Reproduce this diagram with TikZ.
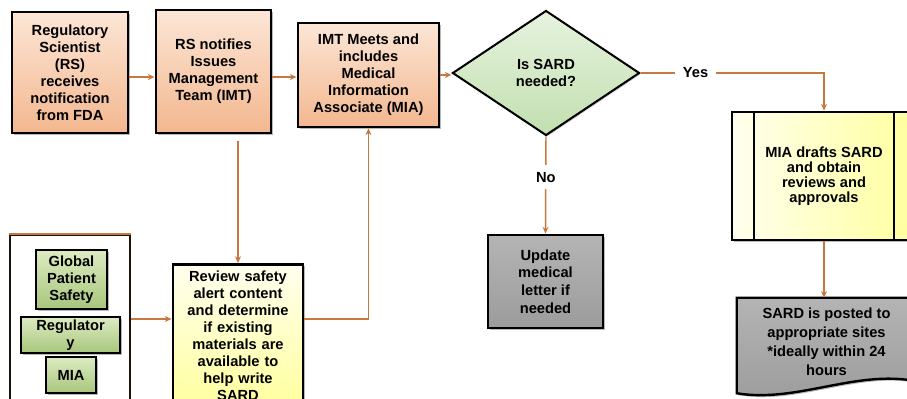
\documentclass[tikz,border=0pt]{standalone}
\usepackage{fontspec}
\setmainfont{Liberation Sans}
\usetikzlibrary{shapes.geometric,arrows.meta,shadows,calc,backgrounds}
\definecolor{connc}{HTML}{C8783C}
\definecolor{peachA}{HTML}{FCE6D6}
\definecolor{peachB}{HTML}{F3B78F}
\definecolor{greenA}{HTML}{E6F3DE}
\definecolor{greenB}{HTML}{C2DFB0}
\definecolor{lgA}{HTML}{DDEBC2}
\definecolor{lgB}{HTML}{A8C67C}
\definecolor{yelA}{HTML}{FFFFEE}
\definecolor{yelB}{HTML}{FFFF9E}
\definecolor{greyA}{HTML}{B4B4B4}
\definecolor{greyB}{HTML}{9C9C9C}
\begin{document}
\begin{tikzpicture}[x=0.75pt,y=-0.75pt,
  every node/.style={font=\fontsize{11}{12.75}\selectfont\bfseries, align=center, inner sep=0pt},
  box/.style={draw=black, line width=2.2pt, drop shadow={shadow xshift=1.5pt,shadow yshift=-1.5pt,fill=black!55}},
  peach/.style={box, top color=peachA, bottom color=peachB},
  lgreen/.style={box, line width=1.8pt, top color=lgA, bottom color=lgB},
  yel/.style={box, left color=yelA, right color=yelB},
  grey/.style={box, top color=greyA, bottom color=greyB},
  conn/.style={draw=connc, line width=1.1pt, -{Stealth[length=5pt,width=4.5pt]}},
  lab/.style={fill=white, inner xsep=6pt, inner ysep=5pt}
]
\useasboundingbox (0,0) rectangle (907,399);

% top row
\node[peach, minimum width=87pt, minimum height=90.75pt] (b1) at (70,72.5)
  {Regulatory\\Scientist\\(RS)\\receives\\notification\\from FDA};
\node[peach, minimum width=86.25pt, minimum height=92.25pt] (b2) at (213.5,71.5)
  {RS notifies\\Issues\\Management\\Team (IMT)};
\node[peach, minimum width=105.75pt, minimum height=78pt] (b3) at (368.5,75)
  {IMT Meets and\\includes\\Medical\\Information\\Associate (MIA)};
\node[diamond, draw=black, line width=1.5pt, top color=greenA, bottom color=greenB,
  drop shadow={shadow xshift=1pt,shadow yshift=-1pt,fill=black!40},
  minimum width=140.25pt, minimum height=93.75pt, aspect=1.5] (d) at (546,73)
  {Is SARD\\needed?};

% right column
\node[yel, minimum width=138pt, minimum height=96pt, font=\fontsize{11}{11.25}\selectfont\bfseries] (mia) at (824,176)
  {MIA drafts SARD\\and obtain\\reviews and\\approvals};
\draw[line width=1.5pt] ($(mia.north west)+(23,0)$) -- ($(mia.south west)+(23,0)$);
\draw[line width=1.5pt] ($(mia.north east)+(-23,0)$) -- ($(mia.south east)+(-23,0)$);

\node[minimum width=134.25pt, minimum height=65.25pt, font=\fontsize{11}{14.25}\selectfont\bfseries] (post) at (826.5,341.5)
  {SARD is posted to\\appropriate sites\\*ideally within 24\\hours};
\begin{scope}[on background layer]
\filldraw[line width=1.8pt, top color=greyA, bottom color=greyB,
  drop shadow={shadow xshift=1.5pt,shadow yshift=-1.5pt,fill=black!55}]
  (post.north west) -- (post.north east) -- ($(post.south east)+(0,-4)$)
  .. controls ($(post.south east)+(-60,-16)$) and ($(post.south west)+(60,18)$)
  .. ($(post.south west)+(0,8)$) -- cycle;
\end{scope}

% middle
\node[grey, minimum width=86.25pt, minimum height=69.75pt, font=\fontsize{11}{13.2}\selectfont\bfseries] (upd) at (545.5,281.5)
  {Update\\medical\\letter if\\needed};

% lower left
\node[draw=black!85!brown, line width=1.6pt, minimum width=90pt, minimum height=126pt] (grp) at (70,319) {};
\draw[connc, line width=2pt] (grp.north west) -- (grp.north east);
\node[lgreen, minimum width=53.25pt, minimum height=44.25pt] (gps) at (71.5,279.5)
  {Global\\Patient\\Safety};
\node[lgreen, minimum width=74.25pt, minimum height=27pt] (reg) at (70.5,335)
  {Regulator\\y};
\node[lgreen, minimum width=37.5pt, minimum height=27pt] (mia2) at (71,375)
  {MIA};

\node[yel, top color=yelA, bottom color=yelB, text width=90pt, inner xsep=3.75pt, inner ysep=5pt, anchor=north] (rev) at (238,263)
  {Review safety\\alert content\\and determine\\if existing\\materials are\\available to\\help write\\SARD};

% connectors
\draw[conn] ($(b1.east)+(0,4.5)$) -- ($(b1.east -| b2.west)+(0,4.5)$);
\draw[conn] ($(b2.east)+(0,5.5)$) -- ($(b2.east -| b3.west)+(0,5.5)$);
\draw[conn] (b3.east) -- (b3.east -| d.west);
\draw[conn] (d.east) -| node[lab, pos=0.15] {Yes} (mia.north);
\draw[conn] (d.south) -- node[lab, pos=0.42] {No} (upd.north);
\draw[conn] (mia.south) -- (mia.south |- post.north);
\draw[conn] ($(b2.south -| rev.north)+(0,7)$) -- (rev.north);
\draw[conn] (grp.east) -- (grp.east -| rev.west);
\draw[conn] (rev.east |- grp.east) -| (b3.south);
\end{tikzpicture}
\end{document}
